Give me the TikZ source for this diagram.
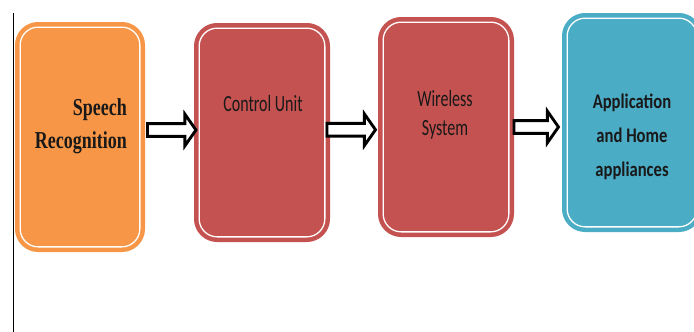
\documentclass[tikz,border=0pt]{standalone}
\usepackage{graphicx}
\usepackage{fontspec}
\setmainfont{Carlito}
\newfontfamily\rmbold{Liberation Serif}
\usetikzlibrary{positioning, calc, shapes.arrows}
\definecolor{orng}{RGB}{247,150,70}
\definecolor{brick}{RGB}{196,82,80}
\definecolor{aqua}{RGB}{75,172,198}
\newcommand{\tall}[2][1.45]{\scalebox{1}[#1]{#2}}

\begin{document}
\begin{tikzpicture}[x=1pt, y=-1pt,
  stage/.style={rectangle, rounded corners=18pt, fill=#1, draw=#1, double=white, double distance=1.3pt, line width=4.5pt, inner sep=0pt, outer sep=0pt},
  fatarrow/.style={single arrow, draw=black, fill=white, line width=2.9pt, inner sep=4.9pt, minimum height=#1, single arrow head extend=9.5pt, single arrow tip angle=110, outer sep=0pt},
  txt/.style={inner sep=0pt, text=black!90},
  ]
  \clip (0,0) rectangle (694,332);
  \draw[line width=0.8pt] (13,13) -- (13,332);

  % the four stages
  \node[stage=orng, minimum width=119.7, minimum height=219.7] (sr) at (80,137) {};
  \node[stage=brick, minimum width=125.7, minimum height=208.7] (cu) at (262,132.5) {};
  \node[stage=brick, minimum width=125.7, minimum height=209.7] (ws) at (446,127) {};
  \node[stage=aqua, minimum width=129.7, minimum height=208.7] (ha) at (632,122.5) {};

  % texts
  \node[txt, anchor=base east, font=\rmbold\bfseries\fontsize{18}{25}\selectfont] (srtxt) at (127,115)
    {\tall[1.35]{\begin{tabular}[t]{@{}r@{}}Speech\\Recognition\end{tabular}}};
  \node[txt, anchor=base, font=\fontsize{16}{19}\selectfont] (cutxt) at (263,111) {\tall{Control Unit}};
  \node[txt, anchor=base, font=\fontsize{16}{20.2}\selectfont] (wstxt) at (445,106)
    {\tall{\begin{tabular}[t]{@{}c@{}}Wireless\\System\end{tabular}}};
  \node[txt, anchor=base, font=\bfseries\fontsize{16.6}{27.2}\selectfont] (hatxt) at (632,108)
    {\tall[1.25]{\begin{tabular}[t]{@{}c@{}}Application\\and Home\\appliances\end{tabular}}};

  % hollow arrows
  \node[fatarrow=48.5] (a1) at ($(sr.east)!.5!(cu.west) + (0,-4.75)$) {};
  \node[fatarrow=48.5] (a2) at ($(cu.east)!.5!(ws.west) + (-5,0)$) {};
  \node[fatarrow=44.5] (a3) at ($(ws.east)!.5!(ha.west) + (-4,2.25)$) {};
\end{tikzpicture}
\end{document}
